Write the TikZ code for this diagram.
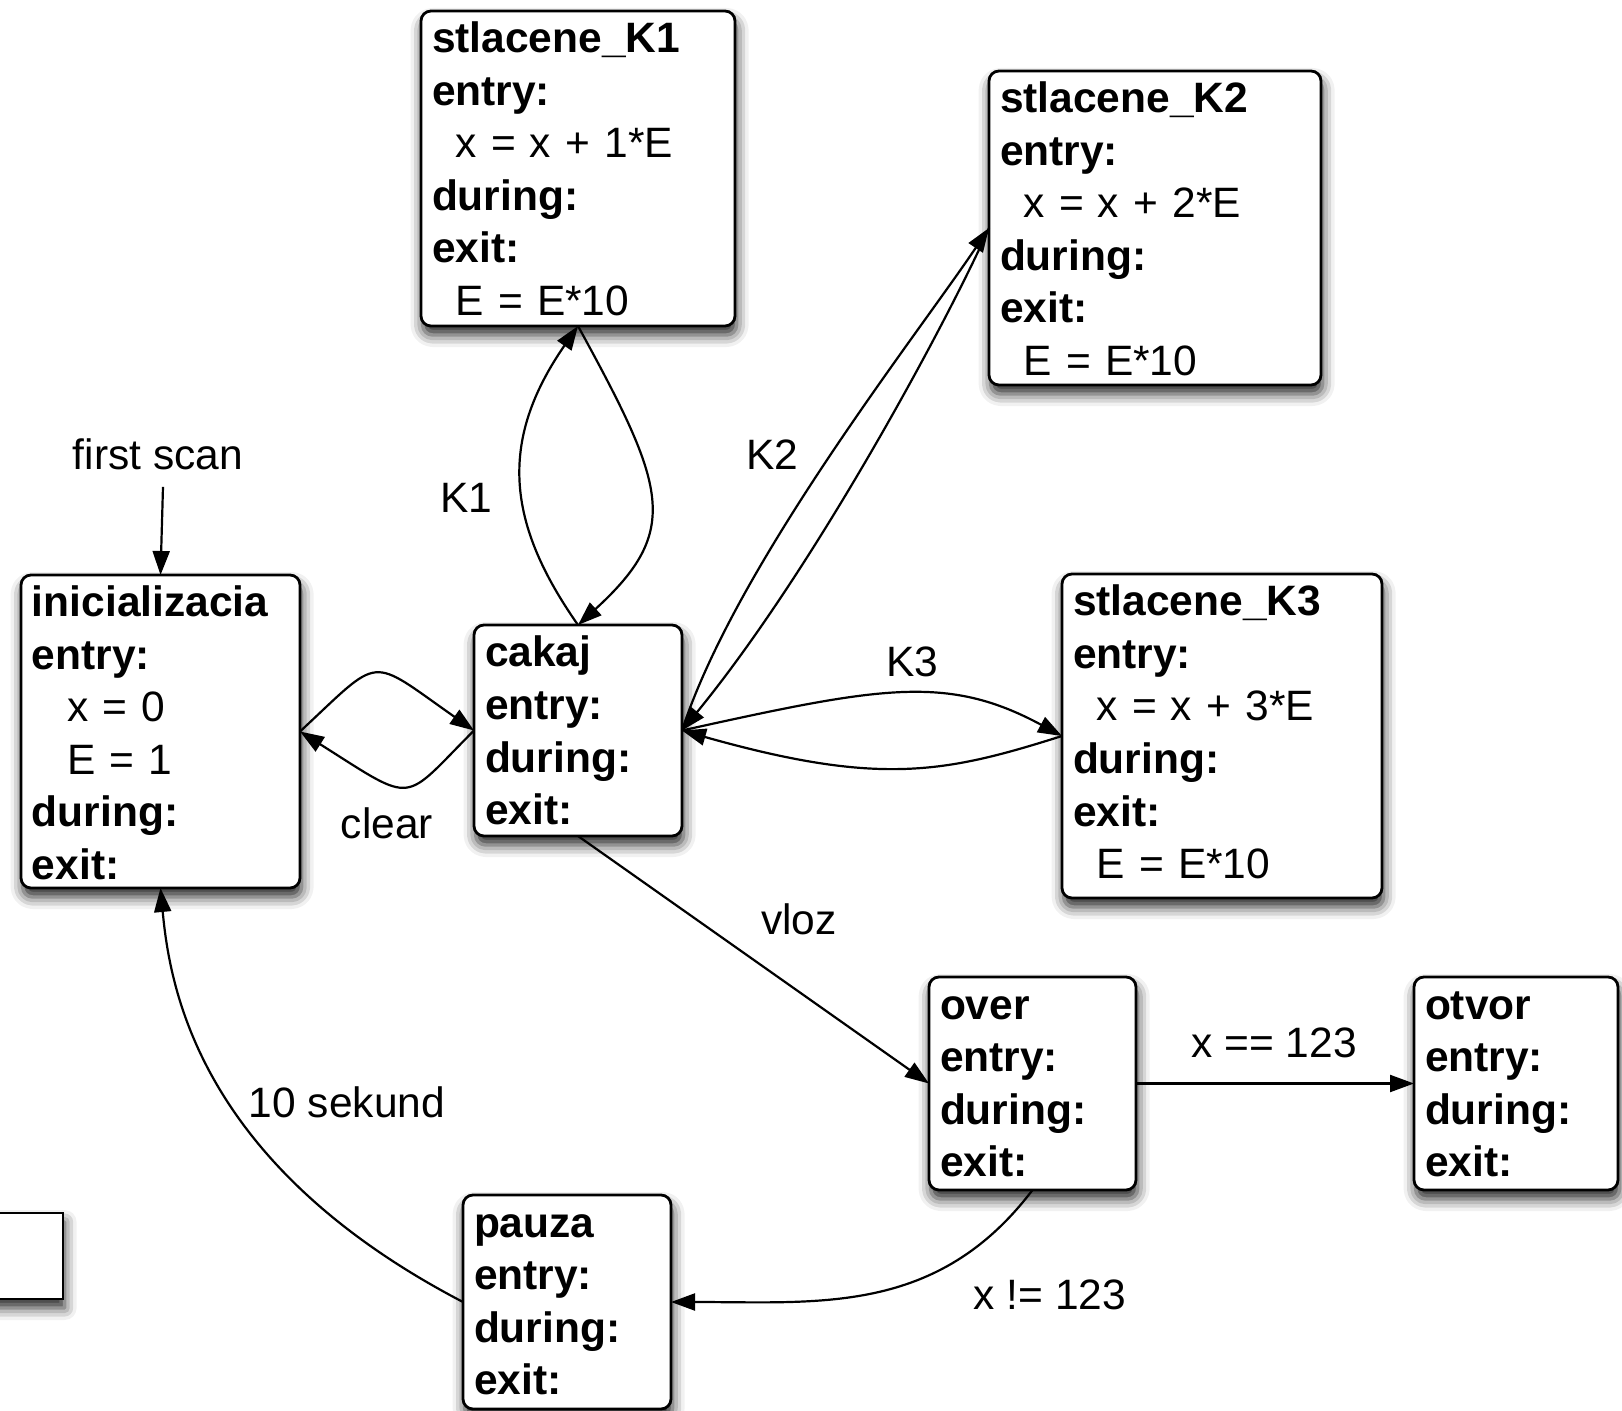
\documentclass[tikz,border=0pt]{standalone}
\usepackage{fontspec}
\setmainfont{Liberation Sans}
\usepackage{tikz}
\usetikzlibrary{arrows.meta}
\usetikzlibrary{shadows.blur}

\newcommand{\diafont}{\fontsize{21.25pt}{26.25pt}\selectfont}
\newcommand{\twosp}{\hspace*{11.8pt}}
\newcommand{\threesp}{\hspace*{17.7pt}}

\tikzset{
  boxshadow/.style={blur shadow={shadow xshift=0.8pt, shadow yshift=-4.5pt, shadow blur radius=6pt, shadow opacity=85}},
  state/.style 2 args={draw, line width=1.4pt, rounded corners=5pt, fill=white, boxshadow,
    anchor=north west, inner xsep=5.5pt, inner ysep=0pt, outer sep=0pt,
    align=left, text width=#1, text height=21pt, text depth=#2, font=\diafont},
  lbl/.style={anchor=base, inner sep=0pt, font=\diafont},
  conn/.style={line width=1.1pt, -{Triangle[length=12pt,width=8.5pt]}},
}

\begin{document}
\begin{tikzpicture}[x=0.5pt,y=0.5pt,yscale=-1,xscale=1]
\useasboundingbox (0,0) rectangle (1622,1411);
\clip (0,0) rectangle (1622,1411);

%Rect (cut at the left edge)
\node [draw, line width=1.4pt, fill=white, boxshadow, anchor=north west, inner sep=0pt, outer sep=0pt,
  minimum width=51.5pt, minimum height=43pt] (legend) at (-40,1213) {};

%Rounded Rect
\node [state={146pt}{136.5pt}] (k1) at (421,11) {\textbf{stlacene\_K1}\\ \textbf{entry:}\\ \twosp x = x + 1*E\\ \textbf{during:}\\ \textbf{exit:}\\ \twosp E = E*10};
%Rounded Rect
\node [state={155pt}{136pt}] (k2) at (989,71) {\textbf{stlacene\_K2}\\ \textbf{entry:}\\ \twosp x = x + 2*E\\ \textbf{during:}\\ \textbf{exit:}\\ \twosp E = E*10};
%Rounded Rect
\node [state={128.5pt}{135.5pt}] (init) at (21,575) {\textbf{inicializacia}\\ \textbf{entry:}\\ \threesp x = 0\\ \threesp E = 1\\ \textbf{during:}\\ \textbf{exit:}};
%Rounded Rect
\node [state={93pt}{84.5pt}] (cakaj) at (474,625) {\textbf{cakaj}\\ \textbf{entry:}\\ \textbf{during:}\\ \textbf{exit:}};
%Rounded Rect
\node [state={149pt}{141pt}] (k3) at (1062,574) {\textbf{stlacene\_K3}\\ \textbf{entry:}\\ \twosp x = x + 3*E\\ \textbf{during:}\\ \textbf{exit:}\\ \twosp E = E*10};
%Rounded Rect
\node [state={92.5pt}{85.5pt}] (over) at (929,977) {\textbf{over}\\ \textbf{entry:}\\ \textbf{during:}\\ \textbf{exit:}};
%Rounded Rect
\node [state={91pt}{85.5pt}] (otvor) at (1414,977) {\textbf{otvor}\\ \textbf{entry:}\\ \textbf{during:}\\ \textbf{exit:}};
%Rounded Rect
\node [state={93pt}{86pt}] (pauza) at (463,1195) {\textbf{pauza}\\ \textbf{entry:}\\ \textbf{during:}\\ \textbf{exit:}};

% Text Node
\node [lbl] (lblscan) at (158,470) {first scan};
% Text Node
\node [lbl] (lblkone) at (466,513) {K1};
% Text Node
\node [lbl] (lblktwo) at (772,470) {K2};
% Text Node
\node [lbl] (lblkthree) at (912,676) {K3};
% Text Node
\node [lbl] (lblclear) at (387,838) {clear};
% Text Node
\node [lbl] (lblvloz) at (799,934) {vloz};
% Text Node
\node [lbl] (lbleq) at (1274,1057) {x == 123};
% Text Node
\node [lbl] (lblneq) at (1050,1309) {x != 123};
% Text Node
\node [lbl] (lblsec) at (347,1117) {10 sekund};

%Straight Lines
\draw [conn] ([xshift=2.5pt,yshift=8pt]lblscan.south) -- (init.north);
%Curve Lines
\draw [conn] (cakaj.north) .. controls +(-70,-100) and +(-81,117) .. (k1.south);
\draw [conn] (k1.south) .. controls +(88,161) and +(104,-95) .. (cakaj.north);
%Curve Lines
\draw [conn] (cakaj.east) .. controls +(54,-166) and +(-71,106) .. (k2.west);
\draw [conn] (k2.west) .. controls +(-39,88) and +(135,-165) .. (cakaj.east);
%Curve Lines
\draw [conn] (cakaj.east) .. controls +(199,-44) and +(-115,-62) .. (k3.west);
\draw [conn] (k3.west) .. controls +(-117,37) and +(198,56) .. (cakaj.east);
%Curve Lines
\draw [conn] (init.east) .. controls +(83,-77) and +(-107,-75) .. (cakaj.west);
\draw [conn] (cakaj.west) .. controls +(-73,73) and +(117,74) .. (init.east);
%Straight Lines
\draw [conn] (cakaj.south) -- (over.west);
%Straight Lines
\draw [conn] (over.east) -- (otvor.west);
%Curve Lines
\draw [conn] (over.south) .. controls +(-95,125) and +(149,0) .. (pauza.east);
%Curve Lines
\draw [conn] (pauza.west) .. controls +(-263,-137) and +(9.5,102) .. (init.south);

\end{tikzpicture}
\end{document}
